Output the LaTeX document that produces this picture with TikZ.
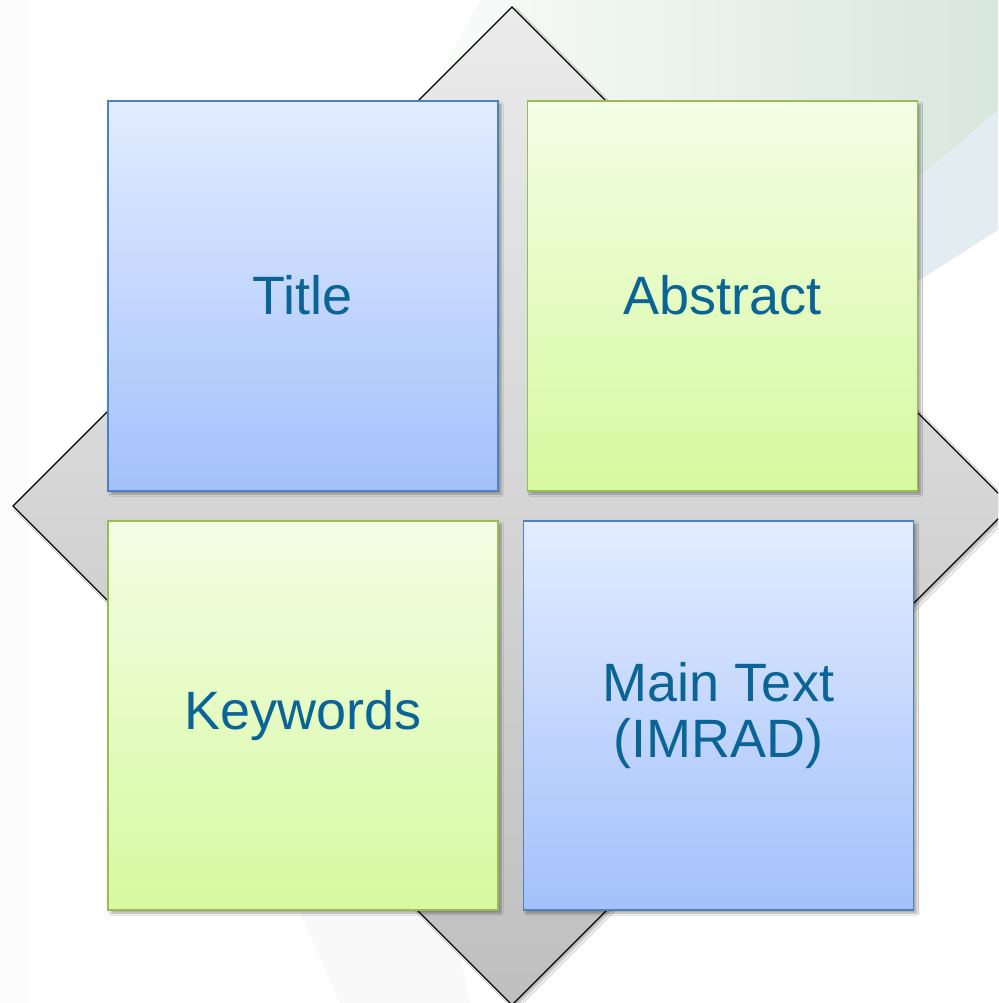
\documentclass[tikz,border=0pt]{standalone}
\usepackage{fontspec}
\setmainfont{Liberation Sans}
\usetikzlibrary{shadows.blur}
\definecolor{txtblue}{HTML}{0A6496}
\definecolor{bluetop}{HTML}{E3ECFF}
\definecolor{bluebot}{HTML}{A3C1FB}
\definecolor{blueline}{HTML}{4F81BD}
\definecolor{greentop}{HTML}{F3FEE5}
\definecolor{greenbot}{HTML}{D7F99F}
\definecolor{greenline}{HTML}{9BBB59}
\definecolor{diatop}{HTML}{EBEBEB}
\definecolor{diabot}{HTML}{BFBFBF}
\definecolor{bggreen}{HTML}{D2E3D8}
\definecolor{bgblue}{HTML}{DAE6EB}
\tikzset{
  card/.style={rectangle, inner sep=0pt, outer sep=0pt, line width=1.7pt,
    minimum width=390pt, minimum height=390pt, align=center,
    text=txtblue, font=\fontsize{54}{56}\selectfont,
    blur shadow={shadow xshift=3pt, shadow yshift=-3pt, shadow blur steps=6, shadow opacity=35}},
  bluecard/.style={card, draw=blueline, top color=bluetop, bottom color=bluebot},
  greencard/.style={card, draw=greenline, top color=greentop, bottom color=greenbot},
}
\begin{document}
\begin{tikzpicture}[x=1pt, y=-1pt]
\useasboundingbox (0,0) rectangle (998,1003);
\clip (0,0) rectangle (998,1003);
\fill[white] (0,0) rectangle (998,1003);
% background decoration
\shade[left color=white, right color=bggreen, shading angle=90, opacity=0.85]
  (480,0) -- (998,0) -- (998,110) -- (600,450) -- (360,220) -- cycle;
\fill[bgblue, opacity=0.75] (998,110) -- (998,230) -- (700,420) -- (700,365) -- cycle;
\fill[black!2.5] (300,912) -- (450,912) -- (470,1003) -- (340,1003) -- cycle;
\fill[black!1.2] (0,0) rectangle (28,1003);
% diamond
\shade[top color=diatop, bottom color=diabot,
  blur shadow={shadow xshift=3pt, shadow yshift=-3pt, shadow opacity=25}]
  (512,7) -- (1011,506) -- (512,1005) -- (13,506) -- cycle;
\draw[black, line width=1.3pt] (512,7) -- (1011,506) -- (512,1005) -- (13,506) -- cycle;
% cards
\node[bluecard] (title) at (303,296) {\raisebox{3pt}{Title}};
\node[greencard] (abstract) at (722.5,296) {\raisebox{3pt}{Abstract}};
\node[greencard, minimum height=389pt] (keywords) at (303,715.5) {\raisebox{2pt}{Keywords}};
\node[bluecard, minimum height=389pt] (main) at (718.5,715.5) {Main Text\\(IMRAD)};
\end{tikzpicture}
\end{document}
